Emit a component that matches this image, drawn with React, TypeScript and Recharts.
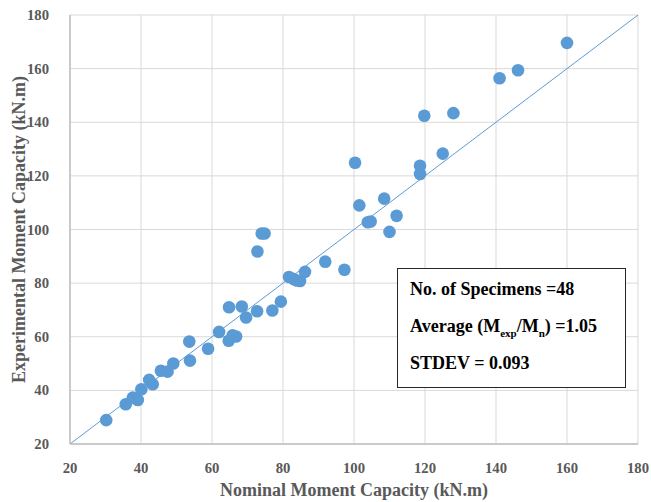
import React from 'react'
import { ScatterChart, Scatter, XAxis, YAxis, CartesianGrid, ReferenceLine } from 'recharts'

const nominal = [
  30.2, 35.7, 37.7, 39.1, 40.1, 42.3, 43.3, 45.6, 47.5, 49.1,
  53.6, 53.8, 58.9, 62.0, 64.8, 64.7, 65.8, 66.8, 68.4, 69.6,
  72.7, 72.8, 74.0, 74.8, 77.0, 79.4, 81.7, 83.0, 83.9, 84.8,
  86.2, 91.9, 97.3, 100.3, 101.5, 103.9, 104.7, 108.5, 110.0, 112.0,
  118.6, 118.6, 119.8, 125.0, 128.0, 141.0, 146.2, 160.0,
]
const experimental = [
  28.9, 34.8, 37.3, 36.4, 40.4, 43.9, 42.3, 47.3, 47.0, 50.0,
  58.2, 51.1, 55.5, 61.8, 71.0, 58.5, 60.5, 60.1, 71.3, 67.2,
  69.5, 91.8, 98.5, 98.5, 69.8, 73.1, 82.3, 81.5, 81.0, 80.8,
  84.2, 88.0, 85.0, 124.9, 109.0, 102.7, 103.0, 111.5, 99.1, 105.1,
  120.7, 123.8, 142.4, 128.3, 143.4, 156.4, 159.4, 169.6,
]
const ticks = [20, 40, 60, 80, 100, 120, 140, 160, 180]

const data = nominal.map((x, i) => ({ x, y: experimental[i] }))

const font = '"Liberation Serif", "Times New Roman", serif'
const titleStyle = { fill: '#595959', fontSize: 18, fontWeight: 700, fontFamily: font }

const XTick = (p: any) => (
  <text x={p.x} y={p.y + 21} textAnchor="middle" fill="#595959" fontSize={14.7} fontWeight={700} fontFamily={font}>
    {p.payload.value}
  </text>
)
const YTick = (p: any) => (
  <text x={p.x - 13} y={p.y + 5} textAnchor="end" fill="#595959" fontSize={14.7} fontWeight={700} fontFamily={font}>
    {p.payload.value}
  </text>
)

export default function App() {
  return (
    <div style={{ position: 'absolute', left: 0, top: 0, width: 651, height: 502, background: '#fff', fontFamily: font }}>
      <ScatterChart width={651} height={502} margin={{ top: 15, right: 13, left: 0, bottom: 0 }}>
        <CartesianGrid stroke="#d9d9d9" strokeWidth={1} />
        <XAxis
          type="number"
          dataKey="x"
          domain={[20, 180]}
          ticks={ticks}
          height={58}
          tickLine={false}
          axisLine={{ stroke: '#bfbfbf', strokeWidth: 1.5 }}
          tick={<XTick />}
          label={{ value: 'Nominal Moment Capacity (kN.m)', position: 'insideBottom', offset: 6, style: titleStyle }}
        />
        <YAxis
          type="number"
          dataKey="y"
          domain={[20, 180]}
          ticks={ticks}
          width={70}
          tickLine={false}
          axisLine={{ stroke: '#bfbfbf', strokeWidth: 1.5 }}
          tick={<YTick />}
          label={{ value: 'Experimental Moment Capacity (kN.m)', angle: -90, position: 'center', dx: -16, style: { ...titleStyle, textAnchor: 'middle' } }}
        />
        <ReferenceLine segment={[{ x: 20, y: 20 }, { x: 180, y: 180 }]} stroke="#5b9bd5" strokeWidth={1} />
        <Scatter data={data} fill="#5b9bd5" isAnimationActive={false} shape={(p: any) => <circle cx={p.cx} cy={p.cy} r={6.3} fill="#5b9bd5" />} />
      </ScatterChart>
      <div
        style={{
          position: 'absolute', left: 397, top: 268, width: 229, height: 120,
          border: '1px solid #262626', background: '#fff', boxSizing: 'border-box',
          fontFamily: font, fontWeight: 700, fontSize: 18, color: '#000',
          padding: '2px 0 0 12px', lineHeight: '37px',
        }}
      >
        <div>No. of Specimens =48</div>
        <div>Average (M<sub style={{ fontSize: 11, lineHeight: 0 }}>exp</sub>/M<sub style={{ fontSize: 11, lineHeight: 0 }}>n</sub>) =1.05</div>
        <div>STDEV = 0.093</div>
      </div>
    </div>
  )
}
